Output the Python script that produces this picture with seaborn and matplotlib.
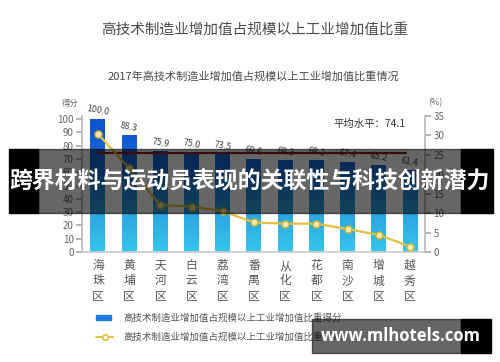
import numpy as np
import pandas as pd
import matplotlib
matplotlib.use("Agg")
import matplotlib.pyplot as plt
from matplotlib.patches import Rectangle
from matplotlib.colors import LinearSegmentedColormap
from matplotlib.lines import Line2D
import seaborn as sns

sns.set_theme(style="white")
plt.rcParams['font.family'] = ['Noto Sans CJK SC', 'DejaVu Sans']

districts = ["海珠区", "黄埔区", "天河区", "白云区", "荔湾区", "番禺区",
             "从化区", "花都区", "南沙区", "增城区", "越秀区"]
scores = [100.0, 88.3, 75.9, 75.0, 73.5, 69.6, 69.3, 69.1, 67.4, 65.2, 61.4]
shares = [30.4, 21.6, 12.1, 11.7, 10.5, 7.6, 7.3, 7.3, 5.9, 4.4, 1.4]
avg_score = 74.1

df = pd.DataFrame({"district": districts, "score": scores, "share": shares})

W, H = 500, 362
fig = plt.figure(figsize=(W / 100, H / 100), dpi=100)
fig.patch.set_facecolor("white")

def fx(px):
    return px / W

def fy(py):
    return 1 - py / H

ax = fig.add_axes([fx(82), fy(252), fx(425) - fx(82), fy(116) - fy(252)])
ax.set_facecolor("none")

sns.barplot(data=df, x="district", y="score", ax=ax, width=0.48,
            color="#1e6fdc", edgecolor="none", saturation=1)
ax.set_xlim(-0.51, 10.48)
ax.set_ylim(0, 102.3)

# vertical gradient on bars
grad_cmap = LinearSegmentedColormap.from_list("g", ["#35c6ea", "#2a9fe0", "#1566da", "#1050d0"])
grad = np.linspace(0, 1, 256).reshape(-1, 1)
for p in ax.patches:
    p.set_facecolor("none")
    im = ax.imshow(grad, cmap=grad_cmap, aspect="auto", origin="lower",
                   extent=[p.get_x(), p.get_x() + p.get_width(), 0, 102.3], zorder=2)
    im.set_clip_path(p)
ax.set_xlim(-0.51, 10.48)
ax.set_ylim(0, 102.3)

for i, v in enumerate(scores):
    ax.text(i, v + 1.5, f"{v:.1f}", ha="center", va="bottom", fontsize=6.5,
            color="#444444", rotation=-10)

ax.hlines(avg_score, -0.03, 9.9, color="#8b2020", lw=1.6, zorder=3)
fig.text(fx(333), fy(124), "平均水平：74.1", fontsize=7.5, color="#333333", va="center")

ax.set_yticks(range(0, 101, 10))
ax.set_xticks(range(len(districts)))
ax.set_xticklabels(["\n".join(d) for d in districts], fontsize=8.5, color="#555555",
                   linespacing=1.25)
ax.tick_params(axis="y", direction="out", length=4, color="#aaaaaa", labelsize=7,
               labelcolor="#666666", left=True, pad=2)
ax.tick_params(axis="x", length=0, pad=5)
ax.set_xlabel("")
ax.set_ylabel("")
for s in ["top", "right"]:
    ax.spines[s].set_visible(False)
ax.spines["left"].set_color("#bbbbbb")
ax.spines["bottom"].set_color("#cccccc")

ax2 = ax.twinx()
sns.lineplot(data=df, x="district", y="share", ax=ax2, color="#e3c03e", lw=1.6,
             marker="o", markersize=5, markerfacecolor="#f6eab0",
             markeredgecolor="#d6b232", markeredgewidth=1)
ax2.set_ylim(0, 35)
ax2.set_yticks(range(0, 36, 5))
ax2.tick_params(axis="y", direction="out", length=4, color="#aaaaaa", labelsize=7,
                labelcolor="#666666", right=True, pad=2)
ax2.set_ylabel("")
for s in ["top", "left", "bottom"]:
    ax2.spines[s].set_visible(False)
ax2.spines["right"].set_color("#bbbbbb")
ax2.set_xlim(-0.51, 10.48)

fig.text(fx(62), fy(103), "得分", fontsize=6, color="#666666", va="center")
fig.text(fx(428), fy(103), "(%)", fontsize=6.5, color="#666666", va="center")

fig.text(fx(255), fy(30), "高技术制造业增加值占规模以上工业增加值比重", fontsize=10.5,
         color="#4a4a4a", ha="center", va="center")
fig.text(fx(253), fy(76), "2017年高技术制造业增加值占规模以上工业增加值比重情况",
         fontsize=8, color="#4a4a4a", ha="center", va="center")

# legend
fig.patches.append(Rectangle((fx(96), fy(320)), fx(15), fy(315) - fy(320),
                             transform=fig.transFigure, color="#1e7ae0"))
fig.text(fx(123), fy(318), "高技术制造业增加值占规模以上工业增加值比重得分",
         fontsize=6.8, color="#555555", va="center")
fig.lines.append(Line2D([fx(96), fx(113)], [fy(337), fy(337)], transform=fig.transFigure,
                        color="#e3c03e", lw=1.4, marker="o", markevery=[0],
                        markersize=0))
fig.lines.append(Line2D([fx(104.5)], [fy(337)], transform=fig.transFigure, marker="o",
                        markersize=4, markerfacecolor="white", markeredgecolor="#e3c03e",
                        markeredgewidth=1.2, lw=0))
fig.text(fx(123), fy(337), "高技术制造业增加值占规模以上工业增加值比重（%）",
         fontsize=6.8, color="#555555", va="center")

# banner overlay
fig.patches.append(Rectangle((fx(9), fy(213)), fx(29), fy(149) - fy(213),
                             transform=fig.transFigure, color="black", zorder=10))
fig.patches.append(Rectangle((fx(461), fy(213)), fx(32), fy(149) - fy(213),
                             transform=fig.transFigure, color="black", zorder=10))
fig.patches.append(Rectangle((fx(38), fy(213)), fx(423), fy(149) - fy(213),
                             transform=fig.transFigure, color="black", alpha=0.6, zorder=10))
fig.text(fx(249), fy(182), "跨界材料与运动员表现的关联性与科技创新潜力", fontsize=16.5,
         fontweight="bold", color="white", ha="center", va="center", zorder=11)

# watermark
fig.patches.append(Rectangle((fx(312), fy(353)), fx(149), fy(319) - fy(353),
                             transform=fig.transFigure, color="black", alpha=0.6, zorder=10))
fig.patches.append(Rectangle((fx(461), fy(353)), fx(30), fy(319) - fy(353),
                             transform=fig.transFigure, color="black", zorder=10))
fig.text(fx(401), fy(336), "www.mlhotels.com", fontsize=12, fontweight="bold",
         color="white", ha="center", va="center", zorder=11, family="Open Sans")

fig.savefig("out.png", dpi=100, facecolor="white")
